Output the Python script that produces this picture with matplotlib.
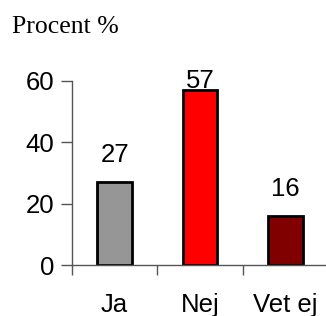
import matplotlib
matplotlib.use("Agg")
import matplotlib.pyplot as plt

# Data
categories = ["Ja", "Nej", "Vet ej"]
values = [27, 57, 16]
colors = ["#969696", "#ff0000", "#800000"]
title = "Procent %"

plt.rcParams['font.family'] = ['Liberation Sans', 'DejaVu Sans']

fig = plt.figure(figsize=(3.26, 3.16), dpi=100)
ax = fig.add_axes([0.221, 0.161, 0.785, 0.583])

x = range(len(categories))
ax.bar(x, values, width=0.41, color=colors, edgecolor="black", linewidth=2)

# value labels (top one squeezed under the frame)
for i, v in enumerate(values):
    ax.text(i, min(v + 6.5, 57.7), str(v), ha="center", va="baseline", fontsize=18.5)

ax.set_xlim(-0.5, 2.5)
ax.set_ylim(0, 60)
ax.set_yticks([0, 20, 40, 60])
ax.set_xticks([-0.5, 0.5, 1.5, 2.5])
ax.set_xticklabels([])
ax.set_xticks([0, 1, 2], minor=True)
ax.set_xticklabels(categories, minor=True, fontsize=18.5)
ax.tick_params(axis="x", which="minor", length=0, pad=20)
ax.tick_params(axis="x", which="major", length=7, width=1, color="#555555")
ax.tick_params(axis="y", length=8, width=1, color="#555555", labelsize=18.5, pad=5)

for s in ["top", "right"]:
    ax.spines[s].set_visible(False)
for s in ["left", "bottom"]:
    ax.spines[s].set_linewidth(1)
    ax.spines[s].set_color("#555555")

fig.text(12 / 326, 1 - 33 / 316, title, family="Liberation Serif", fontsize=18.5, va="baseline")

fig.savefig("out.png", dpi=100)
